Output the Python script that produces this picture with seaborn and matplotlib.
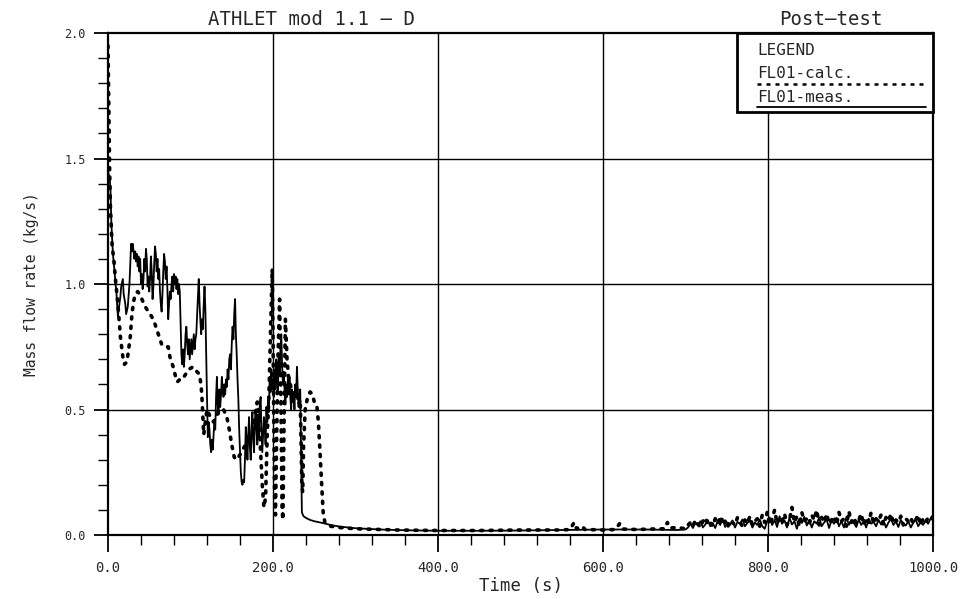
import numpy as np
import pandas as pd
import matplotlib
matplotlib.use("Agg")
import matplotlib.pyplot as plt
import seaborn as sns
from matplotlib.patches import Rectangle
from matplotlib.ticker import MultipleLocator, FormatStrFormatter

# ---------------- data ----------------
# measured mass flow (solid line)
meas_t = [0, 2, 3, 4, 5, 6, 7, 8, 9, 10, 11, 12, 13, 15, 16, 18, 19, 21, 22, 24,
          26, 27, 28, 29, 30, 32, 33, 34, 35, 36, 37, 38, 39, 40, 41, 42, 43, 44, 45, 46,
          47, 48, 49, 50, 51, 52, 53, 54, 55, 56, 57, 58, 59, 60, 61, 62, 63, 64, 65, 66,
          67, 68, 69, 70, 71, 72, 73, 74, 75, 76, 77, 78, 79, 80, 81, 82, 83, 84, 85, 86,
          87, 88, 89, 90, 91, 92, 93, 94, 95, 96, 97, 98, 99, 100, 101, 102, 103, 104, 105, 106,
          107, 108, 109, 110, 111, 112, 113, 114, 115, 116, 117, 118, 119, 120, 121, 122, 123, 124, 125, 126,
          127, 128, 129, 130, 131, 132, 133, 134, 135, 136, 137, 138, 139, 140, 141, 142, 143, 144, 145, 146,
          147, 148, 149, 150, 151, 152, 153, 154, 155, 156, 157, 158, 159, 160, 161, 162, 163, 164, 165, 166,
          167, 168, 169, 170, 171, 172, 173, 174, 175, 176, 177, 178, 179, 180, 181, 182, 183, 184, 185, 186,
          187, 188, 189, 190, 191, 192, 193, 194, 195, 196, 197, 198, 199, 200, 201, 202, 203, 204, 205, 206,
          207, 208, 209, 210, 211, 212, 213, 214, 215, 216, 217, 218, 219, 220, 221, 222, 223, 224, 225, 226,
          227, 228, 229, 230, 231, 232, 233, 234, 235,
          237, 240, 245, 250, 260, 270, 280, 300, 330, 360, 400, 450, 500, 550, 600, 650, 690]
meas_v = [1.45, 1.42, 1.38, 1.25, 1.18, 1.12, 1.08, 1.05, 1.00, 0.98, 0.92, 0.87, 0.90, 0.95, 0.99, 1.02, 0.96, 0.92, 0.88, 0.91,
          1.00, 1.08, 1.16, 1.13, 1.16, 1.10, 1.13, 1.09, 1.12, 1.07, 1.11, 1.05, 1.10, 1.00, 1.04, 0.98, 1.02, 1.10, 1.05, 1.14,
          1.10, 0.99, 1.03, 0.97, 1.02, 1.11, 1.05, 0.94, 0.99, 1.08, 1.15, 1.12, 1.05, 1.10, 1.02, 1.06, 0.97, 0.92, 0.89, 0.96,
          1.05, 1.12, 1.09, 1.02, 1.07, 0.98, 0.86, 0.92, 0.97, 0.94, 1.00, 1.03, 0.97, 1.04, 1.00, 1.03, 0.98, 1.02, 0.96, 1.00,
          0.97, 0.85, 0.72, 0.68, 0.74, 0.67, 0.72, 0.80, 0.83, 0.76, 0.72, 0.78, 0.70, 0.74, 0.78, 0.72, 0.76, 0.80, 0.74, 0.78,
          0.80, 0.88, 0.95, 1.02, 0.92, 0.85, 0.80, 0.86, 0.82, 0.92, 0.99, 0.90, 0.72, 0.55, 0.39, 0.45, 0.42, 0.36, 0.33, 0.38,
          0.34, 0.40, 0.46, 0.42, 0.55, 0.63, 0.52, 0.48, 0.58, 0.51, 0.56, 0.63, 0.58, 0.55, 0.60, 0.56, 0.62, 0.59, 0.66, 0.62,
          0.70, 0.72, 0.66, 0.76, 0.83, 0.78, 0.88, 0.94, 0.80, 0.72, 0.62, 0.54, 0.42, 0.33, 0.25, 0.21, 0.20, 0.22, 0.21, 0.30,
          0.43, 0.38, 0.30, 0.40, 0.47, 0.35, 0.30, 0.42, 0.49, 0.38, 0.33, 0.45, 0.50, 0.42, 0.36, 0.48, 0.39, 0.52, 0.55, 0.42,
          0.33, 0.40, 0.47, 0.43, 0.36, 0.51, 0.45, 0.55, 0.49, 0.63, 0.57, 0.66, 0.58, 0.62, 0.55, 0.66, 0.58, 0.70, 0.62, 0.58,
          0.72, 0.65, 0.74, 0.80, 0.68, 0.60, 0.65, 0.58, 0.52, 0.60, 0.55, 0.62, 0.56, 0.63, 0.55, 0.50, 0.58, 0.53, 0.57, 0.50,
          0.60, 0.55, 0.67, 0.58, 0.51, 0.55, 0.58, 0.35, 0.09,
          0.075, 0.068, 0.06, 0.055, 0.048, 0.04, 0.034, 0.027, 0.022, 0.019, 0.017, 0.017, 0.018, 0.020, 0.022, 0.022, 0.020]
meas_tail_v = [0.022, 0.03, 0.045, 0.028, 0.05, 0.038, 0.055, 0.03, 0.042, 0.06,
               0.035, 0.048, 0.028, 0.055, 0.04, 0.065, 0.032, 0.05, 0.04, 0.058,
               0.03, 0.052, 0.045, 0.062, 0.035, 0.048, 0.058, 0.03, 0.05, 0.04,
               0.062, 0.035, 0.025, 0.055, 0.07, 0.04, 0.06, 0.032, 0.075, 0.045,
               0.058, 0.03, 0.068, 0.042, 0.055, 0.025, 0.065, 0.048, 0.072, 0.038,
               0.06, 0.03, 0.055, 0.045, 0.07, 0.035, 0.05, 0.062, 0.028, 0.058,
               0.045, 0.068, 0.035, 0.055, 0.03, 0.072, 0.04, 0.06, 0.048, 0.032,
               0.062, 0.04, 0.055, 0.03, 0.065, 0.045, 0.052, 0.035, 0.06, 0.042,
               0.058, 0.03, 0.05, 0.065, 0.04, 0.055, 0.032, 0.06, 0.045, 0.038,
               0.055, 0.03, 0.048, 0.062, 0.035, 0.05, 0.04, 0.058, 0.045, 0.065,
               0.07]

# calculated mass flow (dotted line)
calc_t = [0, 1, 2, 3, 5, 7, 9, 12, 15, 18, 20, 23, 25, 27, 29, 31, 33, 36, 38, 41, 45, 49, 53, 57, 61,
          65, 69, 73, 75, 79, 82, 84, 87, 90, 94, 98, 103, 108, 111, 113, 114, 115, 116, 118, 120, 124,
          128, 132, 136, 140, 144, 147, 150, 153, 156, 160, 165, 170, 174, 176, 179, 181, 183, 185, 187,
          189, 191, 193, 195, 197, 199, 200, 201, 202, 203, 204, 206, 208, 209, 210, 211, 212, 213, 215,
          217, 219, 221, 223, 226, 229, 231, 233, 234, 235, 236, 237, 239, 242, 245, 248, 250, 253, 255,
          257, 259, 261, 263, 270, 280, 300, 350, 400, 450, 500, 550, 560, 565, 568, 575, 578, 600, 615,
          620, 623, 640, 660, 675, 678, 681, 690]
calc_v = [1.95, 1.70, 1.45, 1.30, 1.15, 1.10, 1.02, 0.92, 0.79, 0.71, 0.68, 0.69, 0.74, 0.79, 0.88, 0.93,
          0.96, 0.97, 0.96, 0.94, 0.91, 0.89, 0.87, 0.84, 0.80, 0.76, 0.75, 0.75, 0.71, 0.67, 0.63, 0.61,
          0.62, 0.62, 0.64, 0.66, 0.67, 0.65, 0.64, 0.59, 0.54, 0.47, 0.40, 0.45, 0.50, 0.47, 0.45, 0.48,
          0.50, 0.50, 0.47, 0.42, 0.36, 0.31, 0.30, 0.32, 0.35, 0.38, 0.40, 0.42, 0.50, 0.53, 0.45, 0.33,
          0.20, 0.11, 0.15, 0.40, 0.55, 0.80, 1.06, 0.80, 0.45, 0.15, 0.08, 0.30, 0.70, 0.94, 0.70, 0.40,
          0.10, 0.06, 0.35, 0.86, 0.70, 0.62, 0.60, 0.57, 0.55, 0.58, 0.52, 0.54, 0.38, 0.20, 0.17, 0.35,
          0.50, 0.55, 0.57, 0.56, 0.53, 0.52, 0.45, 0.33, 0.20, 0.08, 0.05, 0.035, 0.03, 0.025, 0.02, 0.018,
          0.018, 0.02, 0.02, 0.022, 0.05, 0.025, 0.035, 0.022, 0.02, 0.022, 0.045, 0.024, 0.022, 0.024,
          0.025, 0.05, 0.028, 0.03]
calc_tail_v = [0.025, 0.04, 0.05, 0.035, 0.06, 0.045, 0.03, 0.055, 0.07, 0.04,
               0.05, 0.035, 0.065, 0.045, 0.075, 0.04, 0.055, 0.03, 0.06, 0.05,
               0.04, 0.07, 0.05, 0.035, 0.06, 0.045, 0.075, 0.04, 0.055, 0.065,
               0.035, 0.08, 0.05, 0.09, 0.04, 0.065, 0.10, 0.045, 0.07, 0.055,
               0.085, 0.04, 0.06, 0.11, 0.05, 0.075, 0.035, 0.09, 0.055, 0.065,
               0.045, 0.08, 0.06, 0.10, 0.04, 0.07, 0.05, 0.085, 0.045, 0.06,
               0.075, 0.04, 0.09, 0.055, 0.065, 0.035, 0.095, 0.05, 0.07, 0.045,
               0.06, 0.085, 0.04, 0.07, 0.05, 0.09, 0.045, 0.065, 0.055, 0.08,
               0.04, 0.07, 0.055, 0.085, 0.045, 0.06, 0.05, 0.075, 0.04, 0.065,
               0.055, 0.07, 0.045, 0.06, 0.08, 0.04, 0.065, 0.05, 0.07, 0.06,
               0.075]
tail_t = list(range(700, 1001, 3))

x_ticks = [0, 200, 400, 600, 800, 1000]
y_ticks = [0.0, 0.5, 1.0, 1.5, 2.0]
title_left = "ATHLET mod 1.1 \u2014 D"
title_right = "Post\u2014test"
legend_labels = ["FL01-calc.", "FL01-meas."]

# ---------------- build frames ----------------
meas = pd.DataFrame({"t": meas_t + tail_t, "v": meas_v + meas_tail_v})
calc = pd.DataFrame({"t": calc_t + tail_t, "v": calc_v + calc_tail_v})

sns.set_style("white")
FONT = ["DejaVu Sans Mono", "DejaVu Sans"]
plt.rcParams["font.family"] = FONT

fig = plt.figure(figsize=(9.6, 5.99), dpi=100)
ax = fig.add_axes([0.1125, 0.1068, 0.8594, 0.8381])

ax.grid(False)
for xv in x_ticks[1:-1]:
    ax.axvline(xv, color="black", lw=1.0, zorder=1)
for yv in y_ticks[1:-1]:
    ax.axhline(yv, color="black", lw=1.0, zorder=1)

sns.lineplot(data=meas, x="t", y="v", ax=ax, sort=False, estimator=None,
             color="black", lw=1.3, zorder=3)
sns.lineplot(data=calc, x="t", y="v", ax=ax, sort=False, estimator=None,
             color="black", lw=2.6, zorder=4, linestyle=(0, (0.6, 2.0)),
             dash_capstyle="round")

ax.set_xlim(0, 1000)
ax.set_ylim(0, 2.0)
ax.set_xticks(x_ticks)
ax.set_yticks(y_ticks)
ax.xaxis.set_minor_locator(MultipleLocator(40))
ax.yaxis.set_minor_locator(MultipleLocator(0.1))
ax.xaxis.set_major_formatter(FormatStrFormatter("%.1f"))
ax.yaxis.set_major_formatter(FormatStrFormatter("%.1f"))
ax.tick_params(axis="x", which="major", direction="out", length=12, width=1.3,
               labelsize=10, pad=7, color="black")
ax.tick_params(axis="x", which="minor", direction="out", length=7, width=1.0, color="black")
ax.tick_params(axis="y", which="major", direction="out", length=10, width=1.3,
               labelsize=8.5, pad=6, color="black")
ax.tick_params(axis="y", which="minor", direction="out", length=7, width=1.0, color="black")
ax.tick_params(bottom=True, left=True, which="both")

for s in ax.spines.values():
    s.set_color("black")
    s.set_linewidth(1.6)

ax.set_xlabel("Time (s)", fontsize=12.5, labelpad=1)
ax.set_ylabel("Mass flow rate (kg/s)", fontsize=10.5, labelpad=18)

fig.text(0.325, 0.968, title_left, fontsize=13.7, ha="center", va="center")
fig.text(0.865, 0.968, title_right, fontsize=13.7, ha="center", va="center")

# hand-drawn legend box (as in the original plot)
ax.add_patch(Rectangle((0.762, 0.843), 0.238, 0.157, transform=ax.transAxes,
                       facecolor="white", edgecolor="black", lw=2.0, zorder=6,
                       clip_on=False))
ax.text(0.787, 0.966, "LEGEND", transform=ax.transAxes, fontsize=11.5,
        ha="left", va="center", zorder=7)
ax.text(0.787, 0.920, legend_labels[0], transform=ax.transAxes, fontsize=11.5,
        ha="left", va="center", zorder=7)
ax.plot([0.787, 0.992], [0.899, 0.899], transform=ax.transAxes, color="black",
        lw=1.8, linestyle=(0, (1.6, 2.0)), zorder=7)
ax.text(0.787, 0.872, legend_labels[1], transform=ax.transAxes, fontsize=11.5,
        ha="left", va="center", zorder=7)
ax.plot([0.787, 0.992], [0.853, 0.853], transform=ax.transAxes, color="black",
        lw=1.3, zorder=7)

fig.savefig("out.png", dpi=100)
